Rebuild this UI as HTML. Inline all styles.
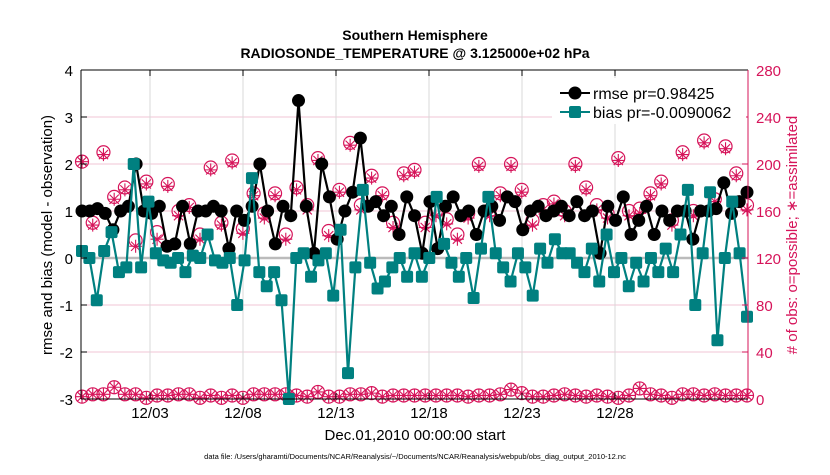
<!DOCTYPE html>
<html><head><meta charset="utf-8"><style>
body{margin:0;background:#fff;}
svg text{font-family:"Liberation Sans",Arial,sans-serif;}
</style></head><body>
<svg id="chart" width="830" height="470" viewBox="0 0 830 470" xmlns="http://www.w3.org/2000/svg">
<rect width="830" height="470" fill="#fff"/>
<g id="grid"></g>
<g id="series"></g>
<g id="axes"></g>
<text x="415" y="40" text-anchor="middle" font-size="14" font-weight="bold">Southern Hemisphere</text>
<text x="415" y="58" text-anchor="middle" font-size="14" font-weight="bold">RADIOSONDE_TEMPERATURE @ 3.125000e+02 hPa</text>
<text x="415" y="440" text-anchor="middle" font-size="15">Dec.01,2010 00:00:00 start</text>
<text x="415" y="459" text-anchor="middle" font-size="7.5">data file: /Users/gharamti/Documents/NCAR/Reanalysis/~/Documents/NCAR/Reanalysis/webpub/obs_diag_output_2010-12.nc</text>
<text transform="translate(52,235) rotate(-90)" text-anchor="middle" font-size="15">rmse and bias (model - observation)</text>
<text transform="translate(797,235) rotate(-90)" text-anchor="middle" font-size="15" fill="#d6145a"># of obs: o=possible; ∗=assimilated</text>
<g id="legend">
<rect x="552" y="78" width="194" height="46" fill="#fff"/>
<line x1="560" y1="93" x2="590" y2="93" stroke="#000" stroke-width="2"/>
<circle cx="575" cy="93" r="6.5" fill="#000"/>
<text x="593" y="99" font-size="16">rmse pr=0.98425</text>
<line x1="560" y1="112" x2="590" y2="112" stroke="#008080" stroke-width="2"/>
<rect x="569" y="106" width="12" height="12" rx="2" fill="#008080"/>
<text x="593" y="118" font-size="16">bias pr=-0.0090062</text>
</g>
</svg>
<script>
const rmse=[1.0,1.0,1.05,0.95,0.6,1.0,1.1,2.0,1.0,0.95,1.1,0.25,0.3,1.1,0.3,1.0,1.0,1.1,1.0,0.2,1.0,0.8,1.1,2.0,1.0,0.3,1.1,0.9,3.35,1.1,0.1,2.0,1.3,0.4,1.0,1.4,2.55,1.1,1.2,0.9,1.1,0.5,1.3,0.9,0.1,1.2,0.2,1.1,1.3,0.9,1.0,0.5,1.0,1.1,0.8,1.3,1.2,0.6,1.0,1.1,0.9,1.0,1.1,0.9,1.2,0.9,1.0,0.1,1.1,0.8,1.3,0.5,0.8,1.1,0.5,1.0,0.8,1.0,1.0,0.4,1.0,1.0,1.05,1.6,0.95,1.2,1.4];
const bias=[0.15,0.0,-0.9,0.15,0.55,-0.3,-0.2,2.0,-0.2,1.2,0.1,-0.05,-0.1,0.0,-0.3,0.05,0.0,0.5,-0.05,-0.1,0.0,-1.0,-0.05,1.7,-0.3,-0.6,-0.3,-0.9,-3.0,0.0,0.1,-0.4,-0.05,0.1,-0.8,0.6,-2.45,-0.2,1.45,-0.1,-0.65,-0.5,-0.2,0.0,-0.4,0.1,-0.4,0.0,1.3,0.3,-0.1,-0.4,0.0,-0.85,0.2,1.3,0.1,-0.2,-0.5,0.1,-0.2,-0.8,0.2,-0.1,0.4,0.1,0.1,-0.1,-0.3,0.2,-0.5,0.5,-0.3,0.0,-0.6,-0.1,-0.5,0.0,-0.3,0.2,-0.3,0.5,1.45,-1.0,0.1,1.4,-1.75,0.0,1.2,0.1,-1.25];
const possibleHigh=[202,150,210,172,180,135,185,142,183,160,165,140,197,150,203,145,175,158,175,140,180,165,205,143,178,218,165,190,175,150,192,195,150,160,153,140,158,200,160,175,200,178,152,165,168,160,200,180,165,158,205,160,162,175,185,152,210,160,220,170,215,192,165];
const assimHigh=[202,148,208,170,178,130,183,136,181,156,163,136,195,148,201,141,173,154,173,136,178,161,203,139,176,216,161,188,173,146,190,193,146,156,149,136,154,198,156,173,198,176,148,161,166,156,198,178,161,154,203,156,158,173,183,148,208,156,218,168,213,190,161];
const possibleLow=[2,4,4,10,4,4,1,3,3,4,4,1,3,1,3,1,4,4,4,4,3,2,6,2,2,4,4,5,2,3,3,3,3,3,3,3,2,3,3,4,8,5,2,2,3,4,3,2,3,2,1,3,9,4,3,1,4,4,3,4,3,3,3];
const assimLow=possibleLow.slice();
const leftTicks=[-3,-2,-1,0,1,2,3,4];
const rightTicks=[0,40,80,120,160,200,240,280];
const dateTicks=["12/03","12/08","12/13","12/18","12/23","12/28"];
const dateTickDays=[2,7,12,17,22,27];

const X0=81,X1=748,Y0=70,Y1=399;
const PINK="#d6145a",TEAL="#008080";
const yL=v=>Y1-(v+3)/7*(Y1-Y0);
const yR=v=>Y1-v/280*(Y1-Y0);
const xIdx=(i,n)=>X0+1+i*(X1-X0-2)/(n-1);
const xDay=d=>150+(d-2)*18.6;
const NS="http://www.w3.org/2000/svg";
function mk(p,t,a){const e=document.createElementNS(NS,t);for(const k in a)e.setAttribute(k,a[k]);p.appendChild(e);return e;}
const grid=document.getElementById('grid'),ser=document.getElementById('series'),ax=document.getElementById('axes');

leftTicks.forEach(v=>{const y=yL(v);
 if(v!==-3&&v!==4&&v!==0){const g=mk(grid,'line',{x1:X0,x2:X1,y1:y,y2:y,stroke:'#f1c6d6','stroke-width':1});
 
 }
 const t=mk(ax,'text',{x:X0-8,y:y+6,'text-anchor':'end','font-size':15});t.textContent=v;
 
 
 mk(ax,'line',{x1:X0,x2:X0+6,y1:y,y2:y,stroke:'#000'});
});
rightTicks.forEach(v=>{const y=yR(v);
 const t=mk(ax,'text',{x:X1+8,y:y+6,'font-size':15,fill:PINK});t.textContent=v;
 
 
 mk(ax,'line',{x1:X1-6,x2:X1,y1:y,y2:y,stroke:PINK});
});
dateTickDays.forEach((d,i)=>{const x=xDay(d);
 const g=mk(grid,'line',{x1:x,x2:x,y1:Y0,y2:Y1,stroke:'#d8d8d8'});
 
 
 mk(ax,'line',{x1:x,x2:x,y1:Y0,y2:Y0+6,stroke:'#000'});
 mk(ax,'line',{x1:x,x2:x,y1:Y1-6,y2:Y1,stroke:'#000'});
 const t=mk(ax,'text',{x:x,y:418,'text-anchor':'middle','font-size':15});t.textContent=dateTicks[i];
 
 
});
const zl=mk(grid,'line',{x1:X0,x2:X1,y1:yL(0),y2:yL(0),stroke:'#bbb','stroke-width':2.5});



function countMarkers(arrP,arrA,name){
 const n=arrP.length;
 arrP.forEach((v,i)=>{const x=xIdx(i,n),y=yR(v);
  const c=mk(ser,'circle',{cx:x,cy:y,r:6.5,fill:'none',stroke:PINK,'stroke-width':1.2});
  
  
  const ya=yR(arrA[i]);
  const s=mk(ser,'path',{d:`M${x-6.5} ${ya}H${x+6.5}M${x} ${ya-6.5}V${ya+6.5}M${x-4.6} ${ya-4.6}L${x+4.6} ${ya+4.6}M${x-4.6} ${ya+4.6}L${x+4.6} ${ya-4.6}`,stroke:PINK,'stroke-width':1.1,fill:'none'});
  
  
 });
}
countMarkers(possibleHigh,assimHigh,'count-high');
countMarkers(possibleLow,assimLow,'count-low');

const nR=rmse.length;
const rl=mk(ser,'polyline',{points:rmse.map((v,i)=>xIdx(i,nR)+','+yL(v)).join(' '),fill:'none',stroke:'#000','stroke-width':2.2});


rmse.forEach((v,i)=>{const c=mk(ser,'circle',{cx:xIdx(i,nR),cy:yL(v),r:6.5,fill:'#000'});
 
 });
const nB=bias.length;
const bl=mk(ser,'polyline',{points:bias.map((v,i)=>xIdx(i,nB)+','+yL(v)).join(' '),fill:'none',stroke:TEAL,'stroke-width':2.2});


bias.forEach((v,i)=>{const r=mk(ser,'rect',{x:xIdx(i,nB)-6,y:yL(v)-6,width:12,height:12,rx:2,fill:TEAL});
 
 });

mk(ax,'line',{x1:X0,x2:X1,y1:Y0,y2:Y0,stroke:'#000'});
mk(ax,'line',{x1:X0,x2:X1,y1:Y1,y2:Y1,stroke:'#000'});
mk(ax,'line',{x1:X0,x2:X0,y1:Y0,y2:Y1,stroke:'#000'});
mk(ax,'line',{x1:X1,x2:X1,y1:Y0,y2:Y1,stroke:PINK});
document.getElementById('chart').appendChild(document.getElementById('legend'));
</script>
</body></html>
